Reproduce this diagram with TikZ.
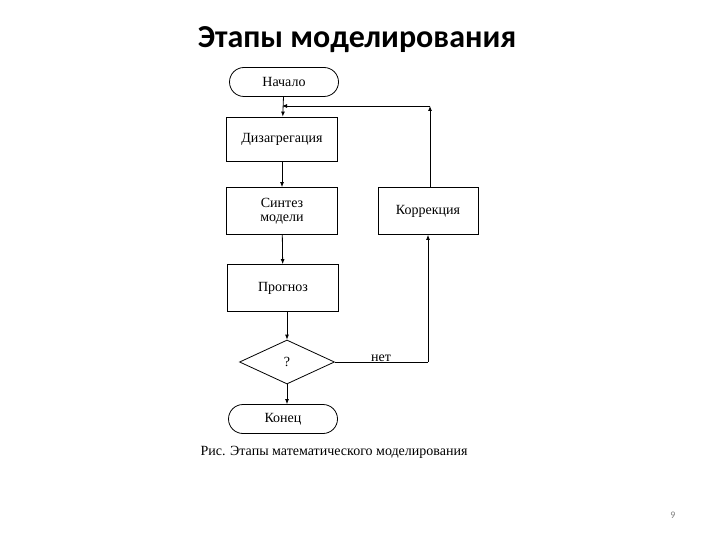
\documentclass[tikz,border=0pt]{standalone}
\usepackage{fontspec}
\setmainfont{Liberation Serif}
\newfontfamily\titlefont{Carlito}
\usetikzlibrary{arrows,arrows.meta,shapes.geometric}

\begin{document}
\begin{tikzpicture}[->,>={Latex[length=5pt,width=4pt]},x=1pt,y=-1pt,line width=0.8pt,
                    font=\fontsize{14}{14}\selectfont]
  \tikzstyle{block}=[draw=black,text=black,rectangle,minimum width=111pt,
                     minimum height=44pt,inner sep=0,align=center]
  \tikzstyle{term}=[draw=black,rectangle,rounded corners=14.5pt,
                    minimum width=109pt,minimum height=29pt,inner sep=0]
  \tikzstyle{decision}=[draw=black,diamond,minimum width=95pt,
                        minimum height=44pt,inner sep=0]

  \useasboundingbox (0,0) rectangle (720,540);

  \node[font=\titlefont\bfseries\fontsize{32}{34}\selectfont] (T) at (357,40) {Этапы моделирования};

  \node[term]     (A) at (284,82)  {Начало};
  \node[block]    (B) at (282,139) {Дизагрегация};
  \node[block,minimum height=47pt] (C) at (282,211) {Синтез\\модели};
  \node[block,minimum height=47pt] (D) at (283,288) {\\[-4pt]Прогноз};
  \node[decision] (E) at (287,362) {?};
  \node[term]     (F) at (283,419) {Конец};
  \node[block,minimum width=100pt,minimum height=47pt] (G) at (428,211) {Коррекция};
  \node (N) at (381,358) {нет};
  \coordinate (K) at (430,106);

  \path (A) edge (B);
  \path (B) edge (C);
  \path (C) edge (D);
  \path (D.south -| E.north) edge (E);
  \path (E) edge (F.north -| E.south);
  \draw[-] (E.east) -- (G.south |- E.east);
  \path (G.south |- E.east) edge (G.south);
  \path (G.north -| K) edge (K);
  \path (K) edge (B.north |- K);

  \node (R) at (334,452) {Рис. Этапы математического моделирования};
  \node[text=gray,font=\titlefont\fontsize{10}{12}\selectfont] (P) at (673,515) {9};
\end{tikzpicture}
\end{document}
